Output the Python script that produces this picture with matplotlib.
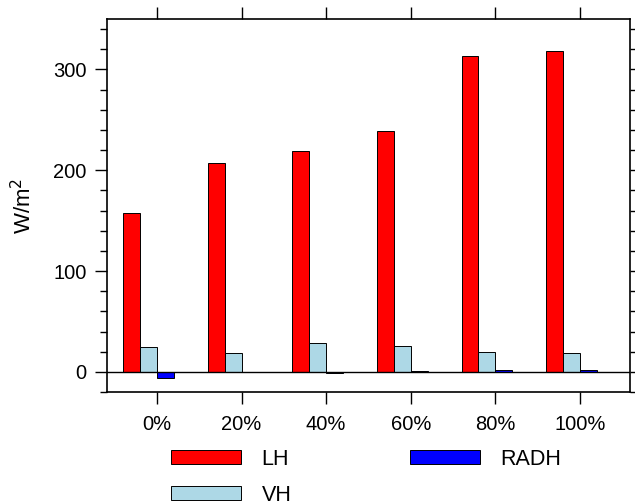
import numpy as np
import matplotlib
matplotlib.use("Agg")
import matplotlib.pyplot as plt
from matplotlib.ticker import MultipleLocator

plt.rcParams['font.family'] = ['Liberation Sans', 'DejaVu Sans']

# Data
categories = ["0%", "20%", "40%", "60%", "80%", "100%"]
lh = [158, 207.5, 219, 239, 313, 318.5]
vh = [24.5, 18.5, 28.8, 25.8, 19.5, 19]
radh = [-6, -0.3, -1.5, 0.5, 1.6, 1.8]

series = [("LH", lh, "red"), ("VH", vh, "lightblue"), ("RADH", radh, "blue")]

fig = plt.figure(figsize=(6.35, 5.01), dpi=100)
ax = fig.add_axes([0.1685, 0.2176, 0.8235, 0.7444])

x = np.arange(len(categories))
width = 0.2
offsets = [-0.3, -0.1, 0.1]
handles = {}
for (name, vals, col), off in zip(series, offsets):
    h = ax.bar(x + off, vals, width, color=col, edgecolor="black", linewidth=0.7, zorder=2)
    handles[name] = h

ax.axhline(0, color="black", linewidth=1.0, zorder=3)

ax.set_xlim(-0.59, 5.59)
ax.set_ylim(-20, 350)
ax.set_xticks(x)
ax.set_xticklabels(categories)
ax.yaxis.set_major_locator(MultipleLocator(100))
ax.yaxis.set_minor_locator(MultipleLocator(20))

ax.tick_params(axis="both", which="major", direction="out", length=8.5, width=1.0,
               labelsize=14.5, top=True, right=True, pad=6)
ax.tick_params(axis="y", which="minor", direction="out", length=5, width=1.0, right=True)
ax.tick_params(axis="x", which="major", pad=8)
for sp in ax.spines.values():
    sp.set_linewidth(1.2)

ax.set_ylabel("W/m$^2$", fontsize=16, labelpad=12)

fig.legend([handles["LH"], handles["VH"], handles["RADH"]], ["LH", "VH", "RADH"],
           ncol=2, loc="upper left", bbox_to_anchor=(0.269, 0.104), frameon=False,
           fontsize=15.5, handlelength=3.25, handleheight=0.6, handletextpad=0.96,
           columnspacing=5.5, labelspacing=0.68, borderaxespad=0, borderpad=0)

fig.savefig("out.png", dpi=100)
